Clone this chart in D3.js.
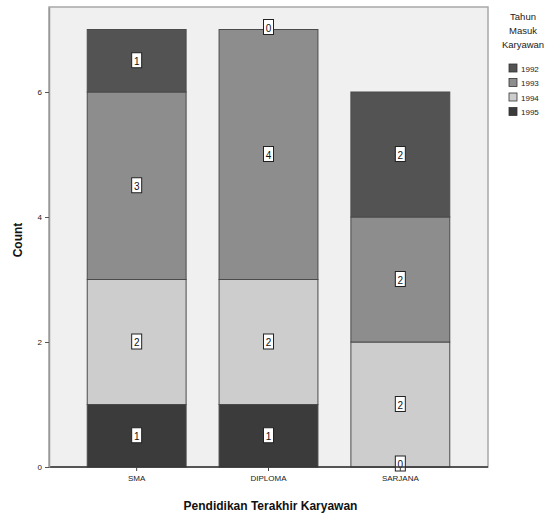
<!DOCTYPE html>
<html>
<head>
<meta charset="utf-8">
<script src="https://cdn.jsdelivr.net/npm/d3@7"></script>
<style>
  html, body { margin: 0; padding: 0; background: #ffffff; }
  svg { display: block; font-family: Arial, "Liberation Sans", sans-serif; }
</style>
</head>
<body>
<svg id="chart" width="555" height="525"></svg>
<script>
// Education level categories on the x axis
const categories = ["SMA", "DIPLOMA", "SARJANA"];
// Year of entry groups (stack order: first key drawn on top)
const years = ["1992", "1993", "1994", "1995"];
// Counts per education level, one array per year
const count1992 = [1, 0, 2];
const count1993 = [3, 4, 2];
const count1994 = [2, 2, 2];
const count1995 = [1, 1, 0];
const yTicks = [0, 2, 4, 6];

const seriesByYear = { "1992": count1992, "1993": count1993, "1994": count1994, "1995": count1995 };
const colors = { "1992": "#535353", "1993": "#8d8d8d", "1994": "#cdcdcd", "1995": "#3b3b3b" };

const rows = categories.map((c, i) => {
  const r = { cat: c };
  years.forEach(y => { r[y] = seriesByYear[y][i]; });
  return r;
});

const svg = d3.select("#chart");
const plot = { left: 49, right: 488, top: 7, bottom: 467 };

const x = d3.scaleBand()
  .domain(categories)
  .range([plot.left, plot.right])
  .paddingInner(0.25)
  .paddingOuter(0.29);

const y = d3.scaleLinear()
  .domain([0, 7.36])
  .range([plot.bottom, plot.top]);

// Plot background
svg.append("rect")
  .attr("x", plot.left).attr("y", plot.top)
  .attr("width", plot.right - plot.left).attr("height", plot.bottom - plot.top)
  .attr("fill", "#f0f0f0")
  .attr("stroke", "#a8a8a8").attr("stroke-width", 1.5);

// Stack bottom-up: 1995, 1994, 1993, 1992
const stackKeys = years.slice().reverse();
const stacked = d3.stack().keys(stackKeys)(rows);

const layers = svg.append("g").selectAll("g")
  .data(stacked)
  .join("g")
  .attr("fill", d => colors[d.key]);

layers.selectAll("rect")
  .data(d => d.map(v => ({ key: d.key, v })))
  .join("rect")
  .attr("x", d => x(d.v.data.cat))
  .attr("width", x.bandwidth())
  .attr("y", d => y(d.v[1]))
  .attr("height", d => y(d.v[0]) - y(d.v[1]))
  .attr("stroke", "#4a4a4a")
  .attr("stroke-width", 1);

// Value labels in small white boxes
const labelData = [];
stacked.forEach(layer => {
  layer.forEach(v => {
    labelData.push({ key: layer.key, cat: v.data.cat, val: v.data[layer.key], mid: (v[0] + v[1]) / 2 });
  });
});

const lab = svg.append("g").selectAll("g")
  .data(labelData)
  .join("g")
  .attr("transform", d => {
    let cy = y(d.mid);
    if (d.val === 0 && d.mid === 0) cy -= 3;
    if (d.val === 0 && d.mid > 0) cy -= 2;
    return `translate(${x(d.cat) + x.bandwidth() / 2},${cy})`;
  });

lab.append("rect")
  .attr("x", -5).attr("y", -8)
  .attr("width", 10).attr("height", 15)
  .attr("fill", "#ffffff")
  .attr("stroke", "#222222").attr("stroke-width", 1);

lab.append("text")
  .attr("text-anchor", "middle")
  .attr("y", 4)
  .attr("font-size", 10)
  .attr("fill", "#111111")
  .text(d => d.val);

// Axes
const xAxis = svg.append("g")
  .attr("transform", `translate(0,${plot.bottom})`)
  .call(d3.axisBottom(x).tickSize(4).tickSizeOuter(0));
xAxis.select(".domain").attr("stroke", "#333333").attr("stroke-width", 1.5)
  .attr("d", `M${plot.left},0H${plot.right}`);
xAxis.selectAll(".tick line").attr("stroke", "#444444");
xAxis.selectAll(".tick text")
  .attr("font-size", 8).attr("fill", "#222222").attr("dy", "0.9em");

const yAxis = svg.append("g")
  .attr("transform", `translate(${plot.left},0)`)
  .call(d3.axisLeft(y).tickValues(yTicks).tickFormat(d3.format("d")).tickSize(4).tickSizeOuter(0));
yAxis.select(".domain").attr("stroke", "#999999").attr("stroke-width", 1.5);
yAxis.selectAll(".tick line").attr("stroke", "#555555");
yAxis.selectAll(".tick text").attr("font-size", 8).attr("fill", "#222222");

// Axis titles
svg.append("text")
  .attr("x", (plot.left + plot.right) / 2 + 2)
  .attr("y", 510)
  .attr("text-anchor", "middle")
  .attr("font-size", 12).attr("font-weight", "bold").attr("fill", "#111111")
  .text("Pendidikan Terakhir Karyawan");

svg.append("text")
  .attr("transform", "translate(22,240) rotate(-90)")
  .attr("text-anchor", "middle")
  .attr("font-size", 12).attr("font-weight", "bold").attr("fill", "#111111")
  .text("Count");

// Legend
const legend = svg.append("g").attr("transform", "translate(523,0)");
["Tahun", "Masuk", "Karyawan"].forEach((t, i) => {
  legend.append("text")
    .attr("x", 0).attr("y", 20 + i * 14)
    .attr("text-anchor", "middle")
    .attr("font-size", 9.5).attr("fill", "#222222")
    .text(t);
});
const items = legend.selectAll("g.item")
  .data(years)
  .join("g")
  .attr("class", "item")
  .attr("transform", (d, i) => `translate(-14,${64 + i * 14.5})`);
items.append("rect")
  .attr("width", 8).attr("height", 8)
  .attr("fill", d => colors[d])
  .attr("stroke", "#333333").attr("stroke-width", 0.8);
items.append("text")
  .attr("x", 12).attr("y", 7.5)
  .attr("font-size", 8).attr("fill", "#222222")
  .text(d => d);
</script>
</body>
</html>
